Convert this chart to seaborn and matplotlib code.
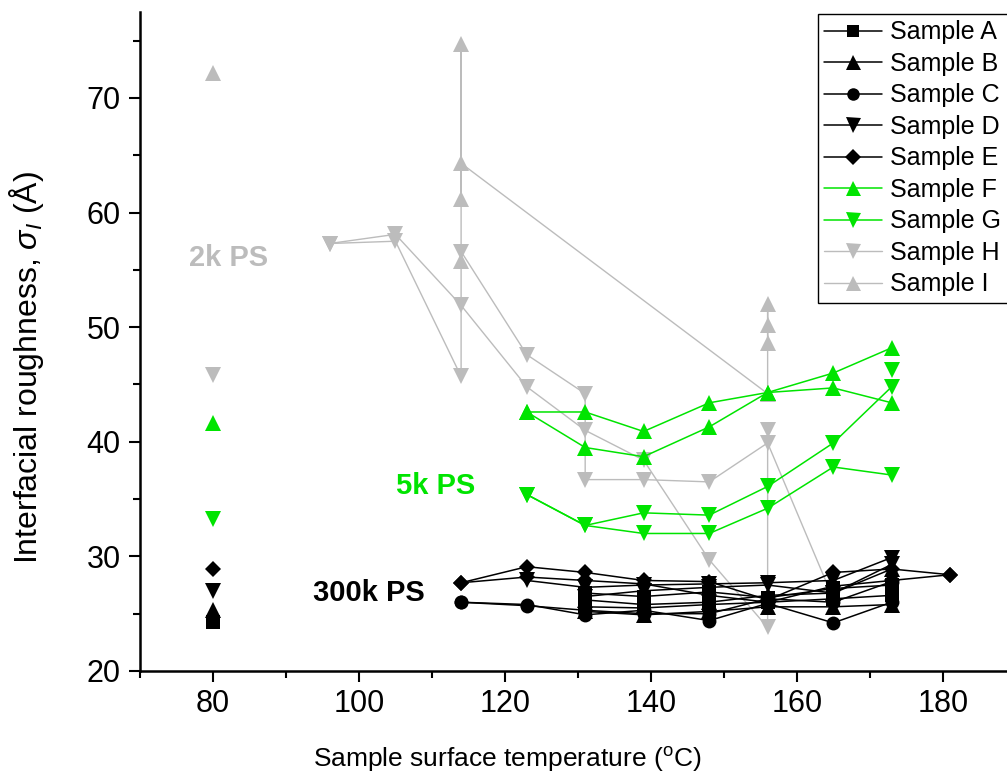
import matplotlib
matplotlib.use("Agg")
import matplotlib.pyplot as plt
from matplotlib.lines import Line2D
from matplotlib.ticker import MultipleLocator
import pandas as pd
import seaborn as sns

# ---------------- data (temperature in degC, roughness in Angstrom, run id) ----------------
SAMPLES = ["Sample A", "Sample B", "Sample C", "Sample D", "Sample E",
           "Sample F", "Sample G", "Sample H", "Sample I"]

A_T = [80, 131, 139, 148, 156, 165, 173, 131, 139, 148, 156, 165, 173]
A_V = [24.3, 25.6, 25.5, 25.8, 26.0, 26.3, 26.6, 26.8, 26.5, 26.9, 26.4, 27.2, 27.5]
A_RUN = [0, 1, 1, 1, 1, 1, 1, 2, 2, 2, 2, 2, 2]

B_T = [80, 131, 139, 148, 156, 165, 173, 131, 139, 148, 156, 165, 173]
B_V = [25.3, 25.2, 24.9, 25.2, 25.6, 25.6, 25.8, 26.2, 25.8, 26.0, 26.6, 26.8, 28.9]
B_RUN = [0, 1, 1, 1, 1, 1, 1, 2, 2, 2, 2, 2, 2]

C_T = [114, 123, 131, 139, 148, 156, 165, 173, 114, 123, 131, 139, 148, 156, 165, 173]
C_V = [26.0, 25.8, 24.9, 25.3, 24.4, 25.9, 24.2, 26.0, 26.0, 25.7, 25.3, 25.0, 25.0, 26.3, 26.0, 27.8]
C_RUN = [1, 1, 1, 1, 1, 1, 1, 1, 2, 2, 2, 2, 2, 2, 2, 2]

D_T = [80, 123, 131, 139, 148, 156, 165, 173, 131, 139, 148, 156, 165, 173]
D_V = [27.0, 27.9, 27.3, 27.5, 27.6, 27.7, 27.9, 29.9, 26.5, 27.0, 27.3, 27.5, 26.8, 29.3]
D_RUN = [0, 1, 1, 1, 1, 1, 1, 1, 2, 2, 2, 2, 2, 2]

E_T = [80, 114, 123, 131, 139, 148, 156, 165, 173, 181,
       114, 123, 131, 139, 148, 156, 165, 173, 181]
E_V = [28.9, 27.7, 29.1, 28.6, 27.9, 27.8, 26.2, 28.6, 28.9, 28.4,
       27.7, 28.2, 27.9, 27.6, 26.6, 26.0, 27.4, 27.9, 28.4]
E_RUN = [0, 1, 1, 1, 1, 1, 1, 1, 1, 1, 2, 2, 2, 2, 2, 2, 2, 2, 2]

F_T = [80, 123, 131, 139, 148, 156, 165, 173, 123, 131, 139, 148, 156, 165, 173]
F_V = [41.6, 42.6, 42.6, 40.9, 43.4, 44.3, 46.0, 48.2, 42.6, 39.5, 38.7, 41.3, 44.3, 44.7, 43.4]
F_RUN = [0, 1, 1, 1, 1, 1, 1, 1, 2, 2, 2, 2, 2, 2, 2]

G_T = [80, 123, 131, 139, 148, 156, 165, 173, 123, 131, 139, 148, 156, 165, 173, 173]
G_V = [33.3, 35.4, 32.7, 33.8, 33.6, 36.1, 39.9, 44.8, 35.4, 32.7, 32.0, 32.0, 34.2, 37.8, 37.1, 46.3]
G_RUN = [0, 1, 1, 1, 1, 1, 1, 1, 2, 2, 2, 2, 2, 2, 2, 3]

H_T = [80, 96, 105, 114, 123, 131, 139, 148, 156, 156,
       96, 105, 114, 114, 123, 131, 131, 139, 148, 156, 165]
H_V = [45.8, 57.3, 58.1, 51.9, 44.8, 41.0, 38.4, 29.7, 23.8, 41.0,
       57.3, 57.5, 45.7, 56.6, 47.6, 44.2, 36.7, 36.7, 36.5, 39.9, 26.3]
H_RUN = [0, 1, 1, 1, 1, 1, 1, 1, 1, 1, 2, 2, 2, 2, 2, 2, 2, 2, 2, 2, 2]

I_T = [80, 114, 114, 114, 114, 156, 156, 156, 156]
I_V = [72.2, 55.8, 74.7, 61.2, 64.3, 44.2, 52.0, 50.2, 48.6]
I_RUN = [0, 1, 1, 1, 1, 1, 1, 1, 1]

GROUP_LABELS = ["2k PS", "5k PS", "300k PS"]
GROUP_T = [82.1, 110.5, 101.3]
GROUP_V = [56.0, 36.1, 26.8]

# ---------------- assemble ----------------
raw = {
    "Sample A": (A_T, A_V, A_RUN), "Sample B": (B_T, B_V, B_RUN),
    "Sample C": (C_T, C_V, C_RUN), "Sample D": (D_T, D_V, D_RUN),
    "Sample E": (E_T, E_V, E_RUN), "Sample F": (F_T, F_V, F_RUN),
    "Sample G": (G_T, G_V, G_RUN), "Sample H": (H_T, H_V, H_RUN),
    "Sample I": (I_T, I_V, I_RUN),
}
frames = []
for name in SAMPLES:
    t, v, r = raw[name]
    frames.append(pd.DataFrame({"sample": name, "T": t, "sigma": v, "run": r}))
df = pd.concat(frames, ignore_index=True)

BLACK = "#000000"
GREEN = "#00e400"
GRAY = "#bcbcbc"
style = {
    "Sample A": dict(marker="s", ms=9.5, color=BLACK, lw=1.1),
    "Sample B": dict(marker="^", ms=12, color=BLACK, lw=1.1),
    "Sample C": dict(marker="o", ms=10, color=BLACK, lw=1.1),
    "Sample D": dict(marker="v", ms=12, color=BLACK, lw=1.1),
    "Sample E": dict(marker="D", ms=8.5, color=BLACK, lw=1.1),
    "Sample F": dict(marker="^", ms=12, color=GREEN, lw=1.1),
    "Sample G": dict(marker="v", ms=12, color=GREEN, lw=1.1),
    "Sample H": dict(marker="v", ms=12, color=GRAY, lw=1.0),
    "Sample I": dict(marker="^", ms=12, color=GRAY, lw=1.0),
}

# ---------------- plot ----------------
sns.set_theme(style="ticks")
plt.rcParams["font.family"] = ["Liberation Sans", "DejaVu Sans"]
plt.rcParams["mathtext.fontset"] = "custom"
plt.rcParams["mathtext.rm"] = "Liberation Sans"
plt.rcParams["mathtext.it"] = "Liberation Sans:italic"
plt.rcParams["mathtext.bf"] = "Liberation Sans:bold"
for key in ["text.color", "axes.labelcolor", "xtick.color", "ytick.color",
            "axes.edgecolor"]:
    plt.rcParams[key] = "black"

fig = plt.figure(figsize=(10.07, 7.79), dpi=100)
ax = fig.add_axes([140 / 1007, 1 - 671 / 779, 1 - 140 / 1007, (671 - 12) / 779])

draw_order = ["Sample I", "Sample H", "Sample G", "Sample F",
              "Sample E", "Sample D", "Sample C", "Sample B", "Sample A"]
for name in draw_order:
    st = style[name]
    sns.lineplot(data=df[df["sample"] == name], x="T", y="sigma", units="run",
                 estimator=None, sort=False, ax=ax, legend=False,
                 color=st["color"], marker=st["marker"], markersize=st["ms"],
                 markeredgewidth=0, markeredgecolor=st["color"],
                 linewidth=st["lw"])

group_colors = [GRAY, GREEN, BLACK]
for lab, t, v, c in zip(GROUP_LABELS, GROUP_T, GROUP_V, group_colors):
    ax.text(t, v, lab, color=c, fontsize=21, fontweight="bold",
            ha="center", va="center")

ax.set_xlim(70, 188.8)
ax.set_ylim(20, 77.5)
ax.xaxis.set_major_locator(MultipleLocator(20))
ax.xaxis.set_minor_locator(MultipleLocator(10))
ax.yaxis.set_major_locator(MultipleLocator(10))
ax.yaxis.set_minor_locator(MultipleLocator(5))
ax.tick_params(which="both", direction="out", width=1.5, color="black",
               labelcolor="black")
ax.tick_params(which="major", length=8, labelsize=22, pad=5)
ax.tick_params(which="minor", length=5)
ax.tick_params(axis="y", which="major", pad=6)

for s in ["top", "right"]:
    ax.spines[s].set_visible(False)
for s in ["left", "bottom"]:
    ax.spines[s].set_linewidth(1.8)
    ax.spines[s].set_color("black")

ax.set_xlabel(r"Sample surface temperature ($^{\rm o}$C)", fontsize=19,
              color="black")
ax.set_ylabel(r"Interfacial roughness, $\sigma_I$ (Å)", fontsize=23,
              color="black")
ax.xaxis.set_label_coords(0.424, -0.112)
ax.yaxis.set_label_coords(-0.108, 0.461)

handles = []
for name in SAMPLES:
    st = style[name]
    handles.append(Line2D([0], [0], color=st["color"], marker=st["marker"],
                          markersize=st["ms"] * 0.9, markeredgewidth=0,
                          linewidth=st["lw"]))
leg = ax.legend(handles, SAMPLES, loc="upper left",
                bbox_to_anchor=(818 / 1007, 1 - 14 / 779),
                bbox_transform=fig.transFigure, fontsize=18, frameon=True,
                fancybox=False, framealpha=1, edgecolor="black",
                handlelength=2.3, handletextpad=0.35, labelspacing=0.3,
                borderpad=0.25, borderaxespad=0)
leg.get_frame().set_linewidth(1.0)
for txt in leg.get_texts():
    txt.set_color("black")

fig.savefig("out.png", dpi=100)
